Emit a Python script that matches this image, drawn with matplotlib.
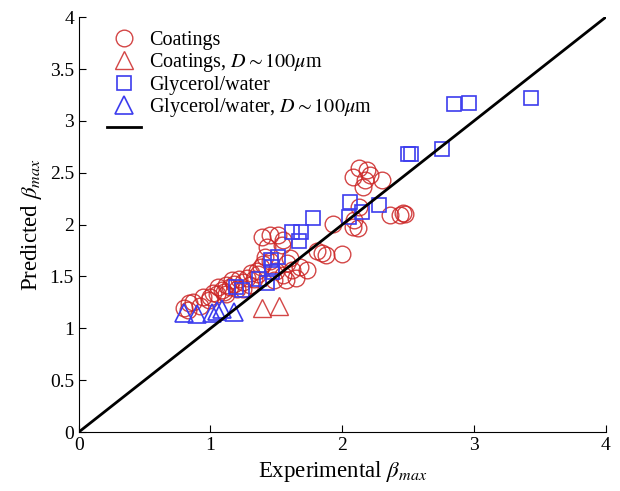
import matplotlib.pyplot as plt

plt.rcParams['font.family'] = ['Liberation Serif', 'DejaVu Serif']
plt.rcParams['mathtext.fontset'] = 'stix'

# Coatings (red circles)
coat_x = [0.80, 0.84, 0.87, 0.83, 0.92, 0.94, 0.99, 1.02, 1.00, 1.06, 1.09, 1.12,
          1.16, 1.22, 1.28, 1.31, 1.05, 1.10, 1.15, 1.18, 1.20, 1.25, 1.30, 1.33,
          1.36, 1.38, 1.41, 1.39, 1.43, 1.45, 1.51, 1.55, 1.54, 1.40, 1.58, 1.62,
          1.68, 1.73, 1.55, 1.65, 1.50, 1.48, 1.57, 1.81, 1.85, 1.88, 2.00, 1.93,
          2.09, 2.12, 2.08, 2.13, 2.13, 2.08, 2.19, 2.17, 2.30, 2.16, 2.21, 2.46,
          2.44, 2.36, 2.48, 1.35, 1.45, 1.60, 1.25, 1.12]
coat_y = [1.20, 1.24, 1.25, 1.18, 1.22, 1.30, 1.27, 1.34, 1.30, 1.40, 1.37, 1.42,
          1.47, 1.48, 1.49, 1.53, 1.33, 1.35, 1.40, 1.43, 1.38, 1.45, 1.42, 1.48,
          1.52, 1.59, 1.69, 1.88, 1.78, 1.90, 1.90, 1.85, 1.80, 1.62, 1.63, 1.56,
          1.59, 1.56, 1.51, 1.49, 1.55, 1.47, 1.47, 1.75, 1.73, 1.71, 1.72, 2.01,
          2.04, 1.97, 1.98, 2.17, 2.55, 2.46, 2.53, 2.43, 2.43, 2.36, 2.48, 2.11,
          2.09, 2.09, 2.10, 1.55, 1.65, 1.68, 1.38, 1.33]

# Coatings, D ~ 100 um (red triangles)
coat_d_x = [1.39, 1.52]
coat_d_y = [1.20, 1.22]

# Glycerol/water (blue squares)
gly_x = [3.43, 2.85, 2.96, 2.76, 2.50, 2.52, 2.06, 2.15, 2.28, 2.05, 1.78, 1.62,
         1.69, 1.67, 1.51, 1.46, 1.47, 1.47, 1.37, 1.43, 1.19, 1.24]
gly_y = [3.22, 3.16, 3.17, 2.73, 2.68, 2.68, 2.22, 2.12, 2.19, 2.07, 2.06, 1.93,
         1.93, 1.84, 1.69, 1.66, 1.59, 1.54, 1.48, 1.44, 1.40, 1.37]

# Glycerol/water, D ~ 100 um (blue triangles)
gly_d_x = [0.80, 0.90, 1.01, 1.05, 1.09, 1.18]
gly_d_y = [1.15, 1.14, 1.15, 1.17, 1.19, 1.16]

line_x = [0, 4]
line_y = [0, 4]

xticks = [0, 1, 2, 3, 4]
yticks = [0, 0.5, 1, 1.5, 2, 2.5, 3, 3.5, 4]
ytick_labels = ['0', '0.5', '1', '1.5', '2', '2.5', '3', '3.5', '4']

red = '#cc2626'
blue = '#3c3cee'

fig = plt.figure(figsize=(6.2, 4.91), dpi=100)
ax = fig.add_axes([0.127, 0.12, 0.85, 0.845])

ax.plot(coat_x, coat_y, 'o', ms=12, mfc='none', mec=red, mew=1.0, alpha=0.85,
        label='Coatings')
ax.plot(coat_d_x, coat_d_y, '^', ms=13, mfc='none', mec=red, mew=1.0, alpha=0.85,
        label=r'Coatings, $D \sim 100\mu$m')
ax.plot(gly_x, gly_y, 's', ms=10, mfc='none', mec=blue, mew=1.2,
        label='Glycerol/water')
ax.plot(gly_d_x, gly_d_y, '^', ms=13, mfc='none', mec=blue, mew=1.2,
        label=r'Glycerol/water, $D \sim 100\mu$m')
ax.plot(line_x, line_y, color='k', lw=2, label=' ')

ax.set_xlim(0, 4)
ax.set_ylim(0, 4)
ax.set_xticks(xticks)
ax.set_yticks(yticks)
ax.set_yticklabels(ytick_labels)
ax.tick_params(direction='in', labelsize=14, length=5)
ax.spines['top'].set_visible(False)
ax.spines['right'].set_visible(False)

ax.set_xlabel(r'Experimental $\beta_{max}$', fontsize=16.5)
ax.set_ylabel(r'Predicted $\beta_{max}$', fontsize=16.5)

ax.legend(loc='upper left', frameon=False, fontsize=14.5, handlelength=1.7,
          labelspacing=0.05, borderaxespad=0.2, handletextpad=0.4,
          bbox_to_anchor=(0.03, 0.995))

fig.savefig('out.png', dpi=100)
